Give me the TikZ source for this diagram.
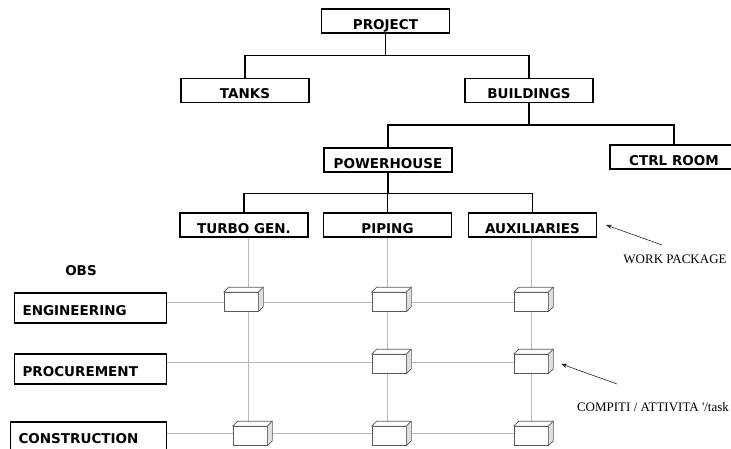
\documentclass[tikz,border=0pt]{standalone}
\usepackage{fontspec}
\setsansfont{DejaVu Sans}
\newfontfamily\notefont{Liberation Serif}
\usetikzlibrary{arrows.meta}

\begin{document}
\begin{tikzpicture}[x=1pt, y=-1pt, >=Stealth,
  lbl/.style={font=\sffamily\bfseries\fontsize{13.5}{15}\selectfont},
  wbs/.style={lbl, draw, line width=1.1pt, minimum width=128pt, minimum height=24pt,
    inner sep=1pt, text height=19pt, text depth=2pt},
  obs/.style={lbl, draw, line width=1.1pt, anchor=west, align=left, inner xsep=8pt,
    inner ysep=1pt, minimum height=30pt, text height=20pt, text depth=5pt},
  tree/.style={line width=1.1pt},
  grid/.style={gray!55, line width=0.9pt},
  wp/.style={draw=gray!70!black, fill=white, minimum width=34pt, minimum height=19pt,
    inner sep=0pt, line width=0.6pt},
  face/.style={draw=gray!70!black, line width=0.6pt, line join=round},
  note/.style={font=\notefont\fontsize{13}{15}\selectfont, inner sep=0pt},
  ptr/.style={->, gray!30!black, line width=0.6pt}]
\useasboundingbox (0,0) rectangle (731,449);
% WBS tree
\node[wbs] (proj) at (385.5,21) {PROJECT};
\node[wbs] (tanks) at (245,90.5) {TANKS};
\node[wbs] (bld) at (529,90.5) {BUILDINGS};
\node[wbs] (ph) at (388,160) {POWERHOUSE};
\node[wbs] (ctrl) at (674,157) {CTRL ROOM};
\node[wbs] (tg) at (244,225) {TURBO GEN.};
\node[wbs] (pip) at (387.5,225) {PIPING};
\node[wbs] (aux) at (532.5,225) {AUXILIARIES};
\foreach \b in {tanks,bld} \draw[tree] (proj.south) -- ++(0,22) -| (\b.north);
\foreach \b in {ph,ctrl} \draw[tree] (bld.south) -- ++(0,22) -| (\b.north);
\foreach \b in {tg,pip,aux} \draw[tree] (ph.south) -- ++(0,21) -| (\b.north);
% OBS
\node[lbl] (obs) at (81,271) {OBS};
\node[obs, text width=136pt] (eng) at (14,308) {ENGINEERING};
\node[obs, text width=136pt] (proc) at (14,369) {PROCUREMENT};
\node[obs, text width=140pt, minimum height=28pt] (cons) at (10,436) {CONSTRUCTION};
% matrix lines
\foreach \b/\s in {tg/4,pip/0,aux/-1}
  \draw[grid] ([xshift=\s pt]\b.south) -- ([xshift=\s pt]\b.south |- cons.east);
\foreach \r/\d in {eng/6,proc/7,cons/3}
  \draw[grid] ([yshift=\d pt]\r.east) -- ([yshift=\d pt]\r.east -| aux.south);
% work packages
\foreach \n/\x/\y in {e1/241/302, e2/389/302, e3/531/302, p2/389/364, p3/531/364,
    c1/250/436, c2/389/436, c3/531/436} {
  \node[wp] (\n) at (\x,\y) {};
  \draw[face, fill=white] (\n.north west) -- ++(5,-5) -- ([shift={(5,-5)}]\n.north east)
    -- (\n.north east) -- cycle;
  \draw[face, fill=gray!25] (\n.north east) -- ++(5,-5) -- ([shift={(5,-5)}]\n.south east)
    -- (\n.south east) -- cycle;
}
% notes
\node[note] (wpk) at (675,259) {WORK PACKAGE};
\node[note] (task) at (653,407) {COMPITI / ATTIVITA '/task};
\coordinate (wpt) at (662,245);
\coordinate (tkt) at (617,384);
\draw[ptr] (wpt) -- ([xshift=9pt]aux.east);
\draw[ptr] (tkt) -- ([xshift=13pt]p3.east);
\end{tikzpicture}
\end{document}
